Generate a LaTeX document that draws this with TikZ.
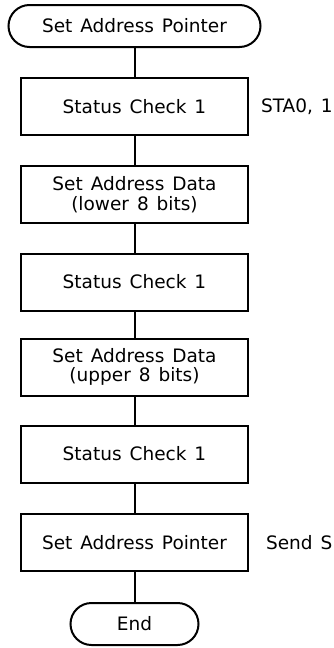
\documentclass[tikz,border=0pt]{standalone}
\usepackage{fontspec}
\setmainfont{DejaVu Sans}[WordSpace=1.35]
\usetikzlibrary{positioning}

\begin{document}
\begin{tikzpicture}[x=1pt, y=-1pt, line width=2pt, font=\fontsize{18.5}{19.5}\selectfont]
	\useasboundingbox (0,0) rectangle (333,648);
	\clip (0,0) rectangle (333,648);
	\tikzset{
		proc/.style={draw, minimum width=227pt, minimum height=57pt, align=center, inner sep=0pt},
		term/.style={draw, rounded corners=21pt, minimum height=42pt, inner sep=0pt},
		note/.style={anchor=west, inner sep=0pt}
	}
	\node[term, minimum width=252pt] (start) at (134.5,26) {Set Address Pointer};
	\node[proc] (chkA) at (134.5,106.5) {Status Check 1};
	\node[proc] (datalo) at (134.5,194.5) {Set Address Data\\(lower 8 bits)};
	\node[proc] (chkB) at (134.5,282) {Status Check 1};
	\node[proc] (datahi) at (134.5,367) {Set Address Data\\(upper 8 bits)};
	\node[proc] (chkC) at (134.5,454) {Status Check 1};
	\node[proc] (setptr) at (134.5,542.5) {Set Address Pointer};
	\node[term, minimum width=128pt] (end) at (134.5,624) {End};
	\draw (start) -- (chkA) -- (datalo) -- (chkB) -- (datahi) -- (chkC) -- (setptr) -- (end);
	\node[note] (sta) at (260,107) {STA0, 1};
	\node[note] (send) at (265,543) {Send S};
\end{tikzpicture}
\end{document}
